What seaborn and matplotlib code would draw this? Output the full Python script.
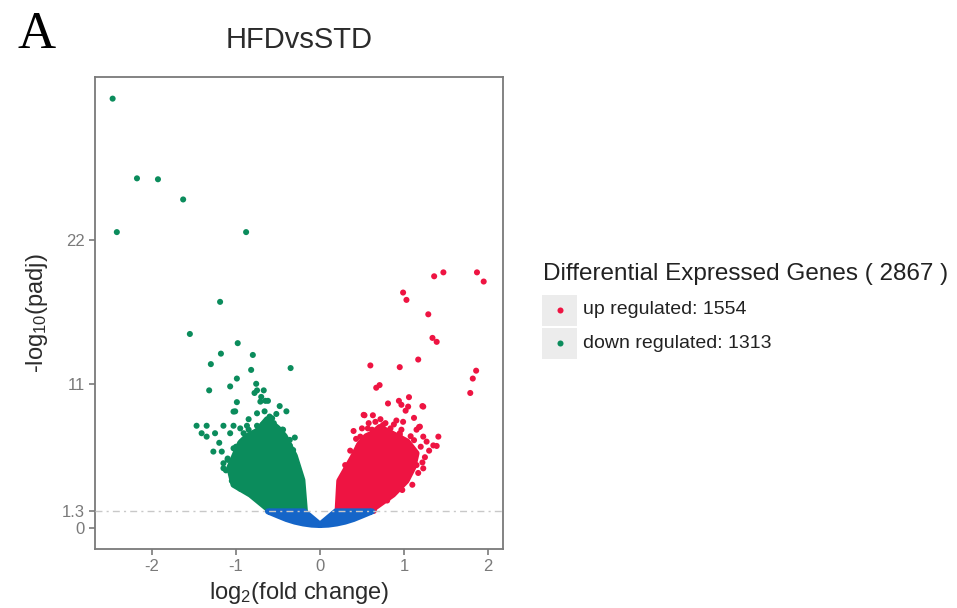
import numpy as np
import pandas as pd
import matplotlib
matplotlib.use("Agg")
import matplotlib.pyplot as plt
from matplotlib.patches import Rectangle
from matplotlib.lines import Line2D
import seaborn as sns

# ---------------- data ----------------
# scattered down-regulated genes (log2FC, -log10 padj)
down_x = [-2.47, -2.18, -1.93, -1.63, -2.42, -0.88, -1.19, -1.55, -0.98, -1.18,
          -0.80, -1.30, -0.82, -0.35, -0.99, -1.32, -1.07, -0.76, -0.75, -0.67,
          -0.78, -0.70, -0.99, -0.65, -0.62, -1.01, -0.48, -0.40, -0.75, -0.60,
          -0.71, -1.03, -0.63, -0.57,
          -1.47, -1.35, -1.15, -1.03, -0.87, -0.75, -0.63,
          -1.41, -1.25, -1.07, -0.91, -0.75, -0.60, -0.48,
          -1.35, -0.36, -1.27, -1.17, -1.03, -0.32, -1.15, -0.28, -1.15,
          -0.52, -0.44, -0.93, -0.83, -1.10,
          -1.10, -1.12, -1.05, -0.95, -1.00, -0.93, -0.85, -0.68, -0.55, -0.45,
          -0.36, -0.33, -0.27, -0.66, -0.52, -0.85, -0.95, -1.20, -0.30]
down_y = [32.75, 26.67, 26.60, 25.06, 22.57, 22.57, 17.25, 14.80, 14.10, 13.30,
          13.20, 12.50, 12.06, 12.20, 11.40, 10.50, 10.80, 11.00, 10.50, 10.50,
          10.30, 10.00, 9.60, 9.70, 9.70, 8.90, 9.30, 8.90, 8.75, 8.50,
          9.64, 8.88, 8.24, 8.37,
          7.80, 7.80, 7.80, 7.80, 7.80, 7.80, 7.80,
          7.23, 7.23, 7.23, 7.23, 7.23, 7.23, 7.23,
          6.97, 6.72, 5.83, 5.83, 6.08, 5.95, 4.94, 4.81, 4.56,
          7.60, 7.50, 6.40, 7.00, 5.20,
          5.30, 4.40, 3.60, 3.00, 6.20, 6.60, 7.50, 7.90, 8.00, 7.50,
          6.30, 5.40, 4.30, 8.90, 8.70, 8.30, 7.60, 6.50, 6.90]

# scattered up-regulated genes
up_x = [1.36, 1.47, 1.87, 1.95, 0.99, 1.03, 1.29, 1.34, 1.39, 1.17,
        0.95, 1.86, 1.82, 1.79, 0.71, 0.67, 1.06, 0.81, 0.94, 0.97,
        1.22, 0.60, 1.02, 0.53, 0.63, 0.91, 0.99, 0.75, 1.15, 1.18,
        0.62, 0.83, 0.95, 0.48, 1.41, 1.23, 1.35, 1.39, 1.05, 0.46,
        1.25, 1.23, 1.05, 1.23, 1.19, 1.27, 1.09, 1.15, 0.95, 0.52,
        0.57, 0.78, 0.88, 1.12,
        0.30, 0.36, 0.43, 0.50, 0.66, 0.72, 0.84, 0.97, 1.08, 1.20,
        1.22, 1.17, 1.10, 0.98, 0.80, 0.58, 1.30, 0.40, 1.12]
up_y = [19.20, 19.50, 19.50, 18.80, 17.96, 17.40, 16.30, 14.50, 14.20, 12.85,
        12.27, 12.00, 11.40, 10.30, 10.90, 10.70, 9.98, 9.50, 9.70, 9.40,
        9.30, 12.40, 8.95, 8.60, 8.60, 8.20, 8.10, 7.86, 7.50, 7.70,
        7.50, 7.20, 7.10, 6.97, 6.97, 6.97, 6.30, 6.26, 6.20, 6.26,
        5.40, 4.55, 9.26, 9.26, 7.73, 6.59, 5.95, 4.80, 7.23, 8.63,
        7.60, 8.00, 7.90, 6.70,
        4.80, 5.90, 6.80, 7.60, 8.10, 8.30, 7.60, 7.50, 7.00, 6.20,
        5.00, 4.20, 3.30, 2.90, 2.10, 8.00, 5.90, 7.40, 8.40]

# outline of the densely packed down-regulated cloud (centres of edge points)
down_core_x = [-0.18, -0.21, -0.30, -0.42, -0.50, -0.63, -0.75, -0.87, -0.95,
               -1.00, -1.08, -1.03, -0.83, -0.63, -0.60]
down_core_y = [1.30, 3.66, 5.50, 7.00, 7.60, 8.30, 7.40, 7.00, 6.50,
               5.80, 4.60, 3.30, 2.55, 1.50, 1.30]

# outline of the densely packed up-regulated cloud
up_core_x = [0.21, 0.23, 0.39, 0.47, 0.55, 0.62, 0.71, 0.86, 1.04, 1.15,
             1.11, 1.03, 0.87, 0.64, 0.64]
up_core_y = [1.30, 3.60, 5.40, 6.40, 7.00, 7.20, 7.70, 7.20, 6.60, 5.70,
             4.60, 3.60, 2.55, 1.50, 1.30]

# outline of the non-significant genes (below threshold)
ns_core_x = [-0.62, -0.50, -0.40, -0.30, -0.20, -0.10, 0.00, 0.10, 0.20,
             0.30, 0.40, 0.50, 0.62, 0.19, 0.00, -0.19]
ns_core_y = [1.27, 0.95, 0.69, 0.49, 0.35, 0.26, 0.23, 0.26, 0.35,
             0.49, 0.69, 0.95, 1.27, 1.27, 0.25, 1.27]

threshold = 1.3
x_ticks = [-2, -1, 0, 1, 2]
y_ticks = [0, 1.3, 11, 22]
y_tick_labels = ["0", "1.3", "11", "22"]

title = "HFDvsSTD"
legend_title = "Differential Expressed Genes ( 2867 )"
legend_labels = ["up regulated: 1554", "down regulated: 1313"]

c_up = "#ee1442"
c_down = "#0b8c5c"
c_ns = "#1565c8"

# ---------------- styling ----------------
sns.set_style("white")
plt.rcParams["font.family"] = ["Liberation Sans", "DejaVu Sans"]
plt.rcParams["mathtext.fontset"] = "custom"
plt.rcParams["mathtext.rm"] = "Liberation Sans"
plt.rcParams["mathtext.it"] = "Liberation Sans:italic"

W, H = 957, 608
fig = plt.figure(figsize=(W / 100, H / 100), dpi=100)
ax = fig.add_axes([95 / W, 1 - 549 / H, (503 - 95) / W, (549 - 77) / H])

MS = 19                 # marker area (pt^2)
LW = np.sqrt(MS)        # matching stroke width for dense cores

# dense cores
ax.fill(down_core_x, down_core_y, facecolor=c_down, edgecolor=c_down,
        linewidth=LW, joinstyle="round", zorder=1)
ax.fill(up_core_x, up_core_y, facecolor=c_up, edgecolor=c_up,
        linewidth=LW, joinstyle="round", zorder=1)

df = pd.DataFrame({
    "log2FC": down_x + up_x,
    "padj": down_y + up_y,
    "group": ["down"] * len(down_x) + ["up"] * len(up_x),
})
sns.scatterplot(data=df, x="log2FC", y="padj", hue="group",
                palette={"down": c_down, "up": c_up}, s=MS, linewidth=0,
                legend=False, ax=ax, zorder=2)

ax.fill(ns_core_x, ns_core_y, facecolor=c_ns, edgecolor=c_ns,
        linewidth=LW, joinstyle="round", zorder=3)

ax.axhline(threshold, color="#c8c8c8", linewidth=1.0,
           linestyle=(0, (5, 3, 1.5, 3)), zorder=4)

ax.set_xlim(-2.68, 2.18)
ax.set_ylim(-1.6, 34.4)
ax.set_xticks(x_ticks)
ax.set_xticklabels([str(v) for v in x_ticks])
ax.set_yticks(y_ticks)
ax.set_yticklabels(y_tick_labels)

for sp in ax.spines.values():
    sp.set_visible(True)
    sp.set_color("#7a7a7a")
    sp.set_linewidth(1.3)
ax.tick_params(axis="both", which="major", direction="out", length=4.5,
               width=1.2, color="#7a7a7a", labelcolor="#7a7a7a",
               labelsize=12, pad=3, bottom=True, left=True)

ax.set_xlabel(r"log$\mathregular{_{2}}$(fold change)", fontsize=17,
              color="#2b2b2b", labelpad=4)
ax.set_ylabel(r"-log$\mathregular{_{10}}$(padj)", fontsize=17,
              color="#2b2b2b", labelpad=8)
ax.set_title(title, fontsize=21, color="#2b2b2b", pad=21)

# panel letter
fig.text(18 / W, 1 - 48 / H, "A", family=["Liberation Serif", "DejaVu Serif"],
         fontsize=38, color="black", va="baseline", ha="left")

# ---------------- legend (drawn manually, ggplot style) ----------------
fig.text(543 / W, 1 - 274 / H, legend_title, fontsize=17.5, color="#222222",
         va="center", ha="left")
rows_y = [310, 343]
for ry, lab, col in zip(rows_y, legend_labels, [c_up, c_down]):
    fig.add_artist(Rectangle(((542) / W, 1 - (ry + 15.5) / H), 35 / W, 31 / H,
                             transform=fig.transFigure, facecolor="#ececec",
                             edgecolor="none"))
    fig.add_artist(Line2D([559.5 / W], [1 - ry / H], transform=fig.transFigure,
                          marker="o", markersize=LW, color=col,
                          markeredgewidth=0, linestyle="none"))
    fig.text(583 / W, 1 - ry / H, lab, fontsize=14, color="#222222",
             va="center", ha="left")

fig.savefig("out.png", dpi=100)
